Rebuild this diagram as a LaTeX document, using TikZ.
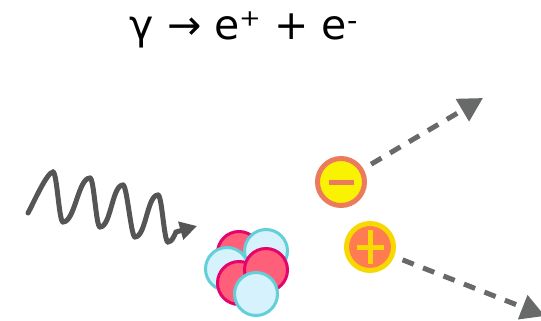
\documentclass[tikz,border=0pt]{standalone}
\usepackage{fontspec}
\setmainfont{DejaVu Sans}
\usetikzlibrary{arrows.meta}

\definecolor{wavegray}{HTML}{555555}
\definecolor{trackgray}{HTML}{686A6A}
\definecolor{protonfill}{HTML}{FF5F79}
\definecolor{protonline}{HTML}{E4046C}
\definecolor{neutronfill}{HTML}{D6F2FC}
\definecolor{neutronline}{HTML}{62CFD9}
\definecolor{elfill}{HTML}{F9F200}
\definecolor{elline}{HTML}{EC7B5D}
\definecolor{posfill}{HTML}{FF7B52}
\definecolor{posline}{HTML}{F7D800}

\begin{document}
\begin{tikzpicture}[x=1pt,y=-1pt,
  nucleon/.style={circle, line width=3pt, minimum size=43pt, inner sep=0pt},
  proton/.style={nucleon, fill=protonfill, draw=protonline},
  neutron/.style={nucleon, fill=neutronfill, draw=neutronline},
  lepton/.style={circle, line width=5pt, minimum size=47pt, inner sep=0pt},
  electron/.style={lepton, fill=elfill, draw=elline},
  positron/.style={lepton, fill=posfill, draw=posline},
  signbar/.style={line width=5pt},
  track/.style={draw=trackgray, line width=5pt, dash pattern=on 12pt off 10pt,
    -{Triangle[length=24pt,width=25pt]}, shorten <=9pt},
  photon/.style={draw=wavegray, line width=5pt, line cap=round,
    -{Triangle[length=17pt,width=18pt]}}
]
\useasboundingbox (0,0) rectangle (541,321);

% reaction equation
\node[font=\fontsize{41}{49}\selectfont, anchor=base] (eq) at (244,40)
  {γ → e⁺ + e\textsuperscript{-}};

% nucleus: back to front
\node[proton]  (p1) at (239,253) {};
\node[neutron] (n1) at (266,251) {};
\node[neutron] (n2) at (227,269) {};
\node[proton]  (p2) at (239,283) {};
\node[proton]  (p3) at (266,270) {};
\node[neutron] (n3) at (256,294) {};

% incoming photon
\coordinate (wstart) at (28,213);
\coordinate (wend) at (197,226);
\draw[photon] (wstart)
  .. controls (33,204) and (47,172) .. (53,172)
  .. controls (57,172) and (59,222) .. (63,222)
  .. controls (75,222) and (78,178) .. (90,178)
  .. controls (94,178) and (96,227) .. (100,227)
  .. controls (111,227) and (112,185) .. (123,185)
  .. controls (127,185) and (131,237) .. (135,237)
  .. controls (146,237) and (147,195) .. (158,195)
  .. controls (162,195) and (164,242) .. (168,242)
  .. controls (172,242) and (174,236) .. (176,232)
  -- (wend);

% electron
\node[electron] (el) at (341,182) {};
\draw[signbar, elline] ([xshift=-12.5pt]el.center) -- ([xshift=12.5pt]el.center);

% positron
\node[positron] (pos) at (370,247) {};
\draw[signbar, posline] ([xshift=-13.5pt]pos.center) -- ([xshift=13.5pt]pos.center);
\draw[signbar, posline] ([yshift=-17pt]pos.center) -- ([yshift=17pt]pos.center);

% outgoing tracks
\coordinate (elend) at (483,98);
\coordinate (posend) at (545,316);
\draw[track] (el) -- (elend);
\draw[track] (pos) -- (posend);
\end{tikzpicture}
\end{document}
